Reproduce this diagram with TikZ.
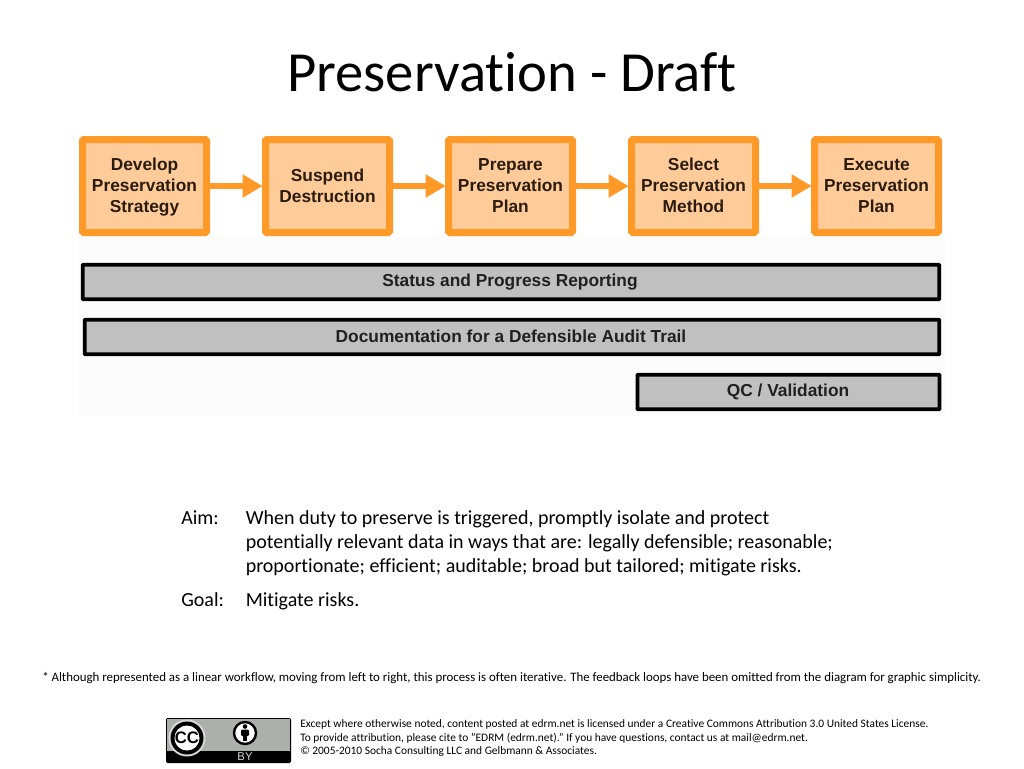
\documentclass[tikz,border=0pt]{standalone}
\usepackage{fontspec}
\setmainfont[RawFeature=-liga]{Carlito}
\newfontfamily\arl{Liberation Sans}
\usetikzlibrary{arrows.meta}
\definecolor{orangeline}{HTML}{FF9A28}
\definecolor{orangefill}{HTML}{FFCC99}
\definecolor{bargray}{HTML}{C0C0C0}
\definecolor{badgegray}{HTML}{ABB0AB}
\definecolor{boxtext}{HTML}{2A1C10}
\definecolor{bartext}{HTML}{202020}
\newcommand{\threelines}[3]{\rule{0pt}{8pt}\smash{#1}\\\smash{#2}\\\smash{#3}}
\tikzset{
  stepbox/.style={draw=orangeline,fill=orangefill,line width=5.25pt,rounded corners=1pt,minimum width=93pt,minimum height=69.75pt,inner sep=0pt,align=center,text=boxtext,font=\arl\bfseries\fontsize{13}{15.8}\selectfont},
  barbox/.style={draw=black,fill=bargray,line width=2.8pt,rounded corners=.5pt,minimum height=26pt,inner sep=0pt},
  bartxt/.style={inner sep=0pt,text=bartext,font=\arl\bfseries\fontsize{13}{15}\selectfont},
  flow/.style={draw=orangeline,line width=5.2pt,-{Triangle[length=15pt,width=16.5pt,fill=orangeline]},shorten >=-0.5pt},
  body/.style={inner sep=0pt,anchor=base west,font=\fontsize{15}{18}\selectfont,text=black},
  foot/.style={inner sep=0pt,anchor=base west,font=\fontsize{9.66}{10}\selectfont,text=black},
  small/.style={inner sep=0pt,anchor=base west,font=\fontsize{8.57}{10}\selectfont,text=black},
}
\begin{document}
\begin{tikzpicture}[x=0.75pt,y=-0.75pt]
\useasboundingbox (0,0) rectangle (1024,768);
\fill[white] (0,0) rectangle (1024,768);
\fill[black!1] (79,236) rectangle (945,416);
\node[inner sep=0pt,anchor=base,font=\fontsize{42.5}{44}\selectfont] (title) at (512,91) {Preservation - Draft};

\node[stepbox] (s1) at (144.5,186) {\threelines{Develop}{Preservation}{Strategy}};
\node[stepbox] (s2) at (327.5,186) {Suspend\\Destruction};
\node[stepbox] (s3) at (510.5,186) {\threelines{Prepare}{Preservation}{Plan}};
\node[stepbox] (s4) at (693.5,186) {\threelines{Select}{Preservation}{Method}};
\node[stepbox] (s5) at (876.5,186) {\threelines{Execute}{Preservation}{Plan}};
\foreach \a/\b in {s1/s2,s2/s3,s3/s4,s4/s5}
  \draw[flow] (\a.east) -- (\b.west);

\node[barbox,minimum width=642.5pt] (b1) at (511,282) {};
\node[bartxt] (b1t) at (510,282.5) {Status and Progress Reporting};
\node[barbox,minimum width=641pt] (b2) at (512,337) {};
\node[bartxt] (b2t) at (511,336.5) {Documentation for a Defensible Audit Trail};
\node[barbox,minimum width=226.5pt] (b3) at (788.5,392) {};
\node[bartxt] (b3t) at (788,392) {QC / Validation};

\node[body] (aim) at (181,524) {Aim:};
\node[body] (aim1) at (245.5,524) {When duty to preserve is triggered, promptly isolate and protect};
\node[body] (aim2) at (245.5,548) {potentially relevant data in ways that are: legally defensible; reasonable;};
\node[body] (aim3) at (245.5,572) {proportionate; efficient; auditable; broad but tailored; mitigate risks.};
\node[body] (goal) at (181,606) {Goal:};
\node[body] (goal1) at (245.5,606) {Mitigate risks.};

\node[foot] (note) at (42,681) {* Although represented as a linear workflow, moving from left to right, this process is often iterative. The feedback loops have been omitted from the diagram for graphic simplicity.};

\node[small] (l1) at (300,727) {Except where otherwise noted, content posted at edrm.net is licensed under a Creative Commons Attribution 3.0 United States License.};
\node[small] (l2) at (300,741) {To provide attribution, please cite to "EDRM (edrm.net)." If you have questions, contact us at mail@edrm.net.};
\node[small] (l3) at (300,754.5) {© 2005-2010 Socha Consulting LLC and Gelbmann \& Associates.};

% CC BY badge
\fill[black,rounded corners=1pt] (166,718) rectangle (291,763);
\fill[badgegray] (167,719) rectangle (290,751);
\fill[white!85!black] (187,738) circle (18.5);
\fill[black] (187,738) circle (16.5);
\fill[white] (187,738) circle (12.5);
\node[inner sep=0pt,font=\arl\bfseries\fontsize{12.5}{12.5}\selectfont] (cc) at (187,738) {CC};
\fill[white] (245,733) circle (11);
\draw[black,line width=1.8pt] (245,733) circle (11);
\fill[black] (245,726.5) circle (2.3);
\fill[black,rounded corners=.8pt] (241,729.5) rectangle (249,736);
\fill[black] (243,735) rectangle (247,741);
\node[inner sep=0pt,text=white!85!black,font=\arl\fontsize{8.5}{8.5}\selectfont] (by) at (245,757) {BY};
\end{tikzpicture}
\end{document}
